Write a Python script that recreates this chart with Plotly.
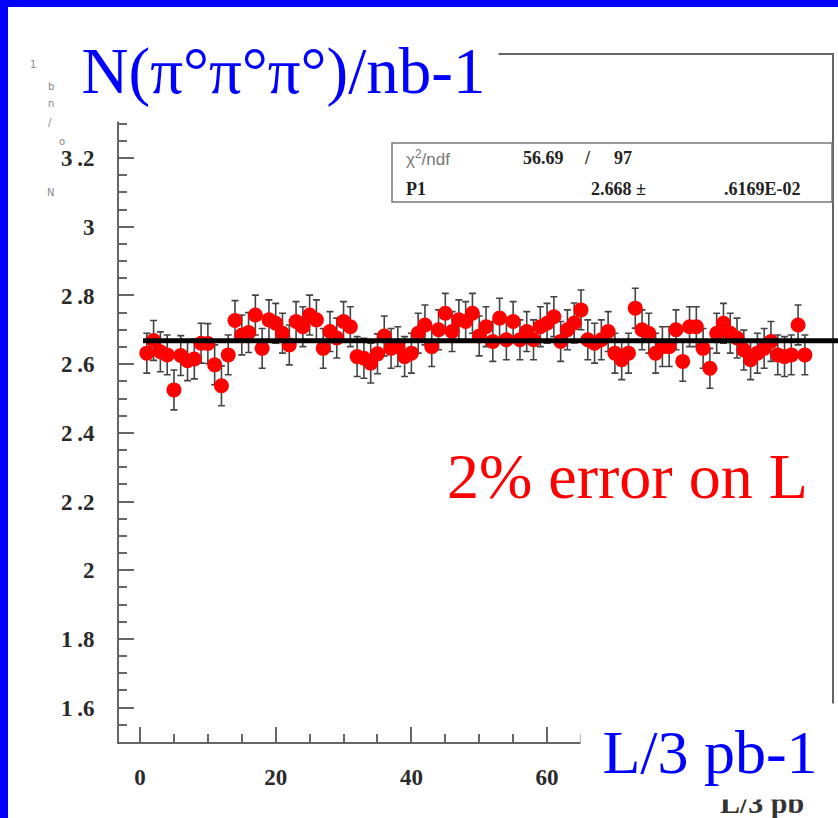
import plotly.graph_objects as go

# ---------------- data ----------------
bins = list(range(1, 99))
values = [
    2.632, 2.669, 2.636, 2.627, 2.525, 2.625, 2.610, 2.615, 2.661, 2.660,
    2.598, 2.537, 2.627, 2.727, 2.685, 2.692, 2.743, 2.646, 2.729, 2.719,
    2.690, 2.656, 2.724, 2.709, 2.743, 2.729, 2.646, 2.695, 2.676, 2.724,
    2.709, 2.622, 2.617, 2.603, 2.630, 2.682, 2.646, 2.651, 2.622, 2.632,
    2.690, 2.714, 2.651, 2.700, 2.748, 2.695, 2.729, 2.724, 2.748, 2.682,
    2.709, 2.666, 2.734, 2.671, 2.724, 2.671, 2.695, 2.671, 2.709, 2.719,
    2.738, 2.666, 2.700, 2.720, 2.758, 2.671, 2.661, 2.671, 2.695, 2.632,
    2.613, 2.632, 2.763, 2.700, 2.690, 2.632, 2.651, 2.651, 2.700, 2.608,
    2.709, 2.709, 2.646, 2.588, 2.690, 2.719, 2.690, 2.676, 2.641, 2.613,
    2.632, 2.646, 2.666, 2.627, 2.622, 2.627, 2.714, 2.627,
]
ERR = 0.058
P1 = 2.668

y_tickvals = [1.6, 1.8, 2.0, 2.2, 2.4, 2.6, 2.8, 3.0, 3.2]
y_ticktext = ["1\u2009.6", "1\u2009.8", "2", "2\u2009.2", "2\u2009.4",
              "2\u2009.6", "2\u2009.8", "3", "3\u2009.2"]
x_tickvals = [0, 20, 40, 60]
x_ticktext = ["0", "20", "40", "60"]

title_text = "N(π°π°π°)/nb-1"
xlab_text = "L/3 pb-1"
err_text = "2% error on L"
root_xtitle = "L/3 pb"

# ---------------- geometry helpers ----------------
W, H = 838, 818
L_, R_, T_, B_ = 119, 832, 55, 742


def px(xp):
    return (xp - L_) / (R_ - L_)


def py(yp):
    return (B_ - yp) / (B_ - T_)


fig = go.Figure()
fig.add_trace(go.Scatter(
    x=bins, y=values, mode="markers",
    marker=dict(color="#ff0000", size=15, line=dict(width=0)),
    error_y=dict(type="constant", value=ERR, color="#444444",
                 thickness=1.6, width=3.5),
    showlegend=False, hoverinfo="skip",
))

axis_common = dict(
    showgrid=False, zeroline=False, showline=True, mirror=True,
    linecolor="#666666", linewidth=2,
    ticks="inside", ticklen=15, tickwidth=2, tickcolor="#666666",
    tickfont=dict(family="Liberation Serif", size=23, color="#2a2a2a",
                  weight="bold"),
)

fig.update_xaxes(
    range=[-3.1, 102.0], tickmode="array", tickvals=x_tickvals,
    ticktext=x_ticktext, ticklabelstandoff=13,
    minor=dict(tickmode="linear", tick0=0, dtick=5, ticks="inside",
               ticklen=8, tickwidth=2, tickcolor="#666666"),
    **axis_common,
)
fig.update_yaxes(
    range=[1.5, 3.5], tickmode="array", tickvals=y_tickvals,
    ticktext=y_ticktext, ticklabelstandoff=18,
    minor=dict(tickmode="linear", tick0=1.5, dtick=0.05, ticks="inside",
               ticklen=8, tickwidth=2, tickcolor="#666666"),
    **axis_common,
)

shapes = []
# stats box
shapes.append(dict(type="rect", xref="paper", yref="paper",
                   x0=px(392), x1=px(832), y0=py(202), y1=py(143),
                   fillcolor="white", line=dict(color="#777777", width=1.5),
                   layer="above"))
# fit line (extends to page edge)
shapes.append(dict(type="line", xref="paper", yref="y",
                   x0=px(143), x1=px(845), y0=P1, y1=P1,
                   line=dict(color="black", width=5), layer="above"))
# major x ticks hidden under the label box still drawn by axis; blue slide border
shapes.append(dict(type="rect", xref="paper", yref="paper",
                   x0=px(-5), x1=px(845), y0=py(7), y1=py(-5),
                   fillcolor="#0000ff", line=dict(width=0), layer="above"))
shapes.append(dict(type="rect", xref="paper", yref="paper",
                   x0=px(-5), x1=px(8), y0=py(823), y1=py(-5),
                   fillcolor="#0000ff", line=dict(width=0), layer="above"))

ann = []
serif = "Liberation Serif"
# tiny leftover ROOT y-title fragments
for t, xx, yy in [("1", 33, 64), ("b", 51, 86), ("n", 51, 104), ("/", 50, 122),
                  ("o", 62, 142), ("N", 50, 192)]:
    ann.append(dict(text=t, x=px(xx), y=py(yy), xref="paper", yref="paper",
                    showarrow=False, xanchor="center", yanchor="middle",
                    font=dict(family="DejaVu Sans", size=10, color="#888888")))

# stats texts
stat_bold = dict(family=serif, size=18, color="#222222", weight="bold")
for t, xx, yy, f in [
    ("χ<sup>2</sup>/ndf", 404, 158, dict(family="Liberation Sans", size=17, color="#777777")),
    ("56.69", 521, 158, stat_bold),
    ("/", 582, 158, stat_bold),
    ("97", 612, 158, stat_bold),
    ("P1", 404, 189, stat_bold),
    ("2.668 ±", 589, 189, stat_bold),
    (".6169E-02", 722, 189, stat_bold),
]:
    ann.append(dict(text=t, x=px(xx), y=py(yy), xref="paper", yref="paper",
                    showarrow=False, xanchor="left", yanchor="middle", font=f))

# ROOT x-axis title (top part hidden under the blue label box)
ann.append(dict(text=root_xtitle, x=px(762), y=py(802), xref="paper", yref="paper",
                showarrow=False, xanchor="center", yanchor="middle",
                font=dict(family=serif, size=30, color="#333333", weight="bold")))

# big slide texts
ann.append(dict(text=title_text, x=px(68), y=py(20), xref="paper", yref="paper",
                showarrow=False, xanchor="left", yanchor="top",
                width=429, height=100, bgcolor="white", borderpad=0,
                align="center", valign="middle",
                font=dict(family=serif, size=65, color="#0000ff")))
ann.append(dict(text=xlab_text, x=px(580), y=py(703), xref="paper", yref="paper",
                showarrow=False, xanchor="left", yanchor="top",
                width=258, height=95, bgcolor="white", borderpad=0,
                align="center", valign="middle",
                font=dict(family=serif, size=62, color="#0000ff")))
ann.append(dict(text=err_text, x=px(627), y=py(476), xref="paper", yref="paper",
                showarrow=False, xanchor="center", yanchor="middle",
                font=dict(family=serif, size=64, color="#ff0000")))

fig.update_layout(
    width=W, height=H, template="none",
    margin=dict(l=L_, r=W - R_, t=T_, b=H - B_, pad=0),
    paper_bgcolor="white", plot_bgcolor="white",
    shapes=shapes, annotations=ann, showlegend=False,
)

fig.write_html("out.html")
